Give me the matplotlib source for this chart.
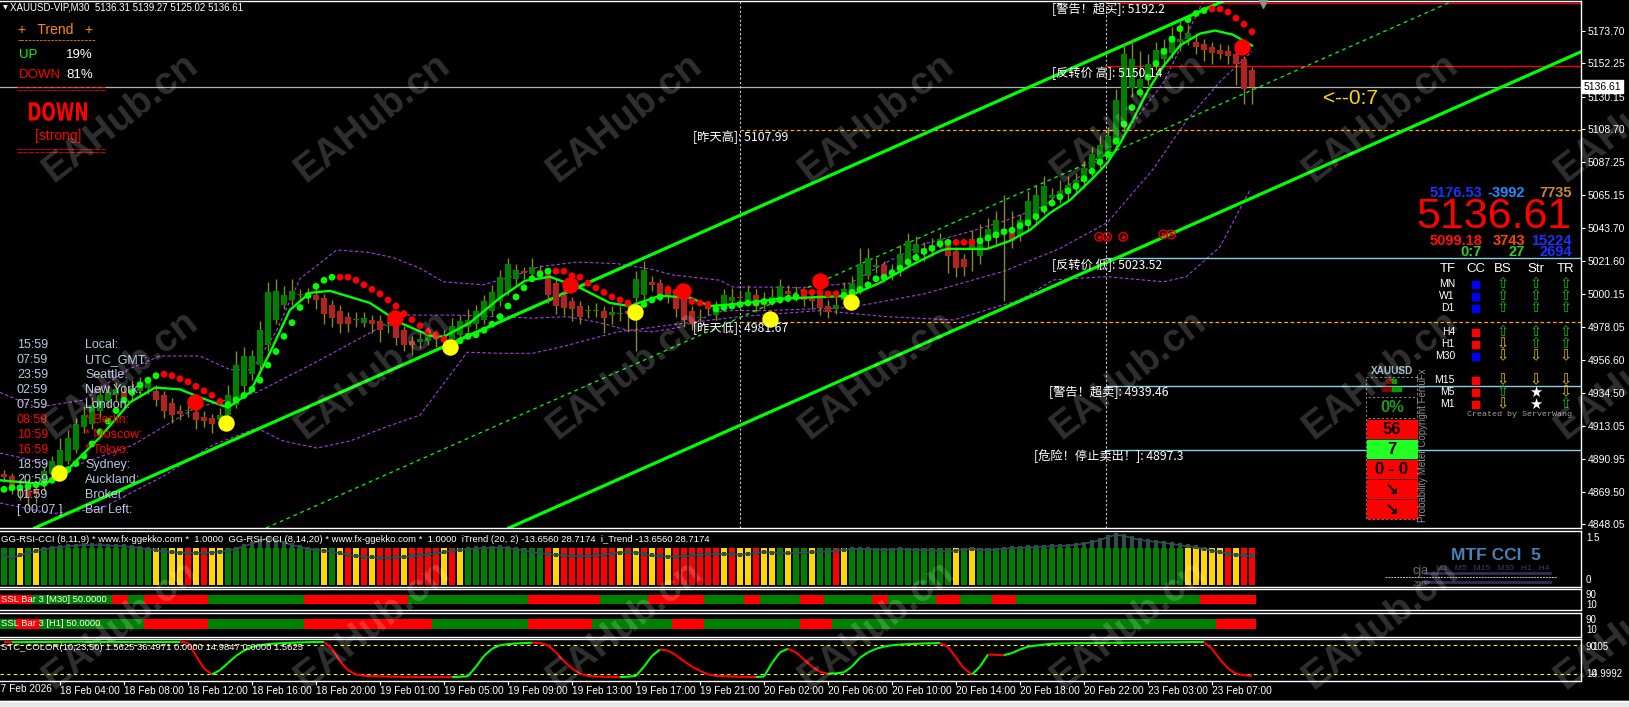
import numpy as np
import matplotlib
matplotlib.use("Agg")
import matplotlib.pyplot as plt
import matplotlib.transforms as mtransforms
from matplotlib.patches import Rectangle, PathPatch
from matplotlib.collections import LineCollection
from matplotlib.textpath import TextPath
from matplotlib.font_manager import FontProperties

plt.rcParams["font.family"] = ["Liberation Sans", "DejaVu Sans"]
CJK = ["Noto Sans CJK SC", "DejaVu Sans"]

W, H = 1629, 707
N_BARS = 157

# ---------------- price data (XAUUSD M30) ----------------
opens = [4881, 4880, 4874, 4874, 4871, 4874, 4881, 4886, 4890, 4897,
         4912, 4914, 4923, 4929, 4933, 4935, 4935, 4936, 4938, 4936,
         4933, 4928, 4923, 4923, 4922, 4919, 4918, 4917, 4920, 4927,
         4939, 4947, 4953, 4966, 4983, 4993, 4996, 4999, 4997, 4999,
         4997, 4993, 4989, 4985, 4983, 4981, 4983, 4982, 4979, 4982,
         4976, 4969, 4968, 4969, 4974, 4970, 4970, 4973, 4978, 4980,
         4983, 4989, 4995, 5002, 5010, 5015, 5013, 5016, 5014, 5007,
         4999, 4995, 4992, 4989, 4989, 4989, 4986, 4987, 4989, 4997,
         4999, 5008, 5007, 5003, 4999, 4997, 4989, 4984, 4992, 4986,
         4992, 4995, 4998, 4996, 4999, 4995, 4996, 4997, 5002, 4998,
         5000, 4998, 4999, 4992, 4990, 4996, 4999, 5003, 5012, 5018,
         5019, 5013, 5015, 5022, 5027, 5030, 5029, 5033, 5032, 5028,
         5023, 5030, 5025, 5035, 5037, 5043, 5040, 5039, 5045, 5050,
         5057, 5063, 5066, 5066, 5070, 5074, 5083, 5087, 5093, 5098,
         5111, 5136, 5136, 5142, 5152, 5155, 5159, 5166, 5168, 5166,
         5165, 5163, 5161, 5160, 5158, 5155, 5148]
closes = [4879, 4872, 4870, 4866, 4868, 4883, 4890, 4897, 4905, 4914,
          4920, 4927, 4933, 4935, 4937, 4932, 4938, 4940, 4941, 4930,
          4923, 4920, 4921, 4923, 4917, 4916, 4914, 4920, 4933, 4953,
          4959, 4959, 4976, 5001, 5002, 4999, 5002, 4999, 5000, 4996,
          4987, 4984, 4980, 4980, 4983, 4984, 4980, 4976, 4979, 4971,
          4966, 4966, 4970, 4974, 4970, 4972, 4979, 4982, 4983, 4989,
          4995, 5001, 5011, 5020, 5016, 5014, 5018, 5014, 4999, 4992,
          4991, 4990, 4985, 4989, 4989, 4984, 4988, 4987, 4987, 5010,
          5016, 5006, 4999, 4999, 4990, 4983, 4980, 4985, 4990, 4991,
          4999, 4998, 4997, 5001, 4992, 4993, 4998, 5005, 5000, 5000,
          4996, 4995, 4991, 4988, 4993, 5003, 5007, 5020, 5024, 5019,
          5012, 5015, 5026, 5035, 5033, 5026, 5032, 5036, 5025, 5017,
          5018, 5036, 5037, 5043, 5049, 5040, 5035, 5049, 5061, 5065,
          5071, 5065, 5068, 5072, 5075, 5083, 5092, 5098, 5104, 5128,
          5158, 5155, 5142, 5152, 5161, 5162, 5170, 5168, 5172, 5163,
          5161, 5159, 5158, 5157, 5152, 5135, 5136.61]
highs = [4884, 4882, 4876, 4878, 4873, 4886, 4893, 4905, 4910, 4918,
         4926, 4932, 4938, 4940, 4942, 4940, 4943, 4945, 4946, 4940,
         4936, 4931, 4927, 4927, 4925, 4923, 4921, 4925, 4940, 4962,
         4965, 4963, 4982, 5008, 5010, 5005, 5010, 5003, 5004, 5003,
         5000, 4996, 4993, 4988, 4988, 4988, 4986, 4986, 4983, 4986,
         4979, 4972, 4974, 4978, 4976, 4976, 4984, 4986, 4990, 4993,
         4999, 5006, 5016, 5024, 5020, 5018, 5024, 5019, 5017, 5010,
         5003, 4998, 4995, 4993, 4994, 4992, 4992, 4992, 4994, 5015,
         5022, 5012, 5010, 5006, 5002, 5000, 4992, 4990, 4995, 4995,
         5003, 5004, 5002, 5006, 5003, 5001, 5004, 5010, 5006, 5005,
         5004, 5002, 5003, 4996, 4998, 5008, 5012, 5030, 5030, 5024,
         5022, 5020, 5032, 5040, 5038, 5034, 5037, 5040, 5035, 5031,
         5026, 5042, 5046, 5050, 5055, 5065, 5055, 5053, 5068, 5072,
         5078, 5070, 5075, 5078, 5080, 5088, 5097, 5104, 5110, 5135,
         5165, 5168, 5160, 5158, 5166, 5168, 5176, 5180, 5178, 5172,
         5168, 5166, 5165, 5164, 5162, 5157, 5150]
lows = [4876, 4868, 4864, 4860, 4862, 4870, 4878, 4884, 4888, 4895,
        4908, 4911, 4918, 4925, 4929, 4928, 4930, 4932, 4934, 4926,
        4918, 4915, 4917, 4919, 4911, 4912, 4908, 4914, 4918, 4925,
        4935, 4943, 4950, 4962, 4980, 4990, 4993, 4996, 4994, 4990,
        4980, 4978, 4974, 4975, 4978, 4978, 4974, 4968, 4974, 4966,
        4962, 4960, 4964, 4966, 4965, 4966, 4968, 4970, 4975, 4977,
        4980, 4986, 4992, 4999, 5006, 5010, 5009, 5010, 4994, 4987,
        4986, 4982, 4980, 4984, 4985, 4974, 4980, 4982, 4975, 4962,
        4995, 5002, 4995, 4994, 4985, 4978, 4976, 4980, 4986, 4983,
        4989, 4992, 4993, 4993, 4988, 4990, 4993, 4994, 4997, 4995,
        4992, 4990, 4986, 4984, 4987, 4993, 4996, 5000, 5010, 5014,
        5008, 5009, 5012, 5019, 5024, 5022, 5025, 5030, 5014, 5011,
        5012, 5015, 5020, 5030, 5033, 4995, 5030, 5035, 5042, 5047,
        5053, 5058, 5060, 5062, 5066, 5070, 5078, 5083, 5090, 5095,
        5107, 5130, 5130, 5138, 5148, 5150, 5156, 5160, 5164, 5158,
        5154, 5152, 5155, 5152, 5138, 5125, 5125]

# parabolic dots (one per bar) and their colour runs
sar = [4871, 4872, 4872, 4873, 4874, 4875, 4877, 4881, 4884, 4888,
       4893, 4901, 4909, 4916, 4923, 4930, 4935, 4940, 4943, 4946,
       4947, 4946, 4944, 4942, 4939, 4936, 4933, 4929, 4927, 4930,
       4933, 4937, 4943, 4953, 4962, 4972, 4981, 4991, 4999, 5005,
       5009, 5011, 5011, 5011, 5009, 5006, 5003, 5000, 4996, 4992,
       4987, 4983, 4979, 4975, 4973, 4970, 4967, 4969, 4972, 4973,
       4976, 4980, 4985, 4992, 4998, 5004, 5010, 5013, 5015, 5015,
       5015, 5012, 5011, 5007, 5004, 5001, 4998, 4996, 4994, 4990,
       4993, 4996, 4998, 5003, 5001, 4998, 4995, 4994, 4993, 4990,
       4991, 4992, 4993, 4994, 4994, 4995, 4995, 4996, 4997, 4998,
       5001, 5001, 5001, 5000, 5000, 4999, 5001, 5003, 5006, 5010,
       5011, 5014, 5017, 5021, 5024, 5028, 5030, 5033, 5034, 5034,
       5034, 5034, 5035, 5037, 5039, 5041, 5042, 5045, 5047, 5051,
       5056, 5060, 5064, 5068, 5071, 5076, 5081, 5087, 5092, 5101,
       5112, 5123, 5133, 5143, 5152, 5160, 5168, 5175, 5181, 5185,
       5187, 5188, 5188, 5186, 5182, 5178, 5173]
sar_runs = [("g", 20), ("r", 8), ("g", 14), ("r", 14), ("g", 13), ("r", 10), ("g", 4),
            ("r", 6), ("g", 11), ("r", 5), ("g", 14), ("r", 3), ("g", 29), ("r", 6)]

# smoothed moving average (vertices: bar, price)
ma_bar = [-0.5, 5.1, 8.25, 12, 15.75, 18.9, 22, 24.5, 28, 30.75, 33.25, 35.75, 38.25, 40.75,
          45.75, 49.5, 53.25, 55, 58.25, 62, 65.1, 68.25, 72, 75.75, 78.25, 82, 85.75, 88.25,
          92, 97, 105.75, 109.5, 113.25, 117, 117.9, 122.9, 125.75, 128.25, 130.75, 133.25,
          136.1, 137.9, 139.5, 141.1, 143, 144.9, 147, 149.5, 151.4, 153.6, 156]
ma_val = [4877, 4874.4, 4885.6, 4905.4, 4928.4, 4938.2, 4937, 4931.7, 4925, 4935, 4961.3,
          4989.5, 5000.7, 5002, 4994, 4981, 4972.4, 4971.8, 4981, 4997.4, 5008.6, 5011.3, 5004,
          4994, 4992, 4998.8, 4997.5, 4992, 4993.5, 4996.8, 4998.8, 5007.3, 5018.5, 5028.4,
          5029.7, 5029.7, 5035, 5042.2, 5053.4, 5061.9, 5076.4, 5086.3, 5099.4, 5114.6, 5134.3,
          5150.1, 5163.9, 5171.8, 5173.8, 5171.1, 5163.9]

# purple dashed bands (vertices: bar, price)
band_up_bar = [-0.5, 4, 10, 15.4, 19.5, 24.5, 28.25, 31, 34, 37, 41.6, 45.4, 48.6, 52, 54.9,
               59.9, 63.25, 67, 71.6, 76.6, 81.1, 83.6, 89.5, 91.1, 95.4, 99.5, 105.75, 110,
               115, 120, 125, 130, 135, 140, 145, 149.5, 150.5]
band_up_val = [4935, 4925, 4930, 4950, 4959, 4959, 4950, 4950, 4975, 5010, 5029, 5027.5,
               5024, 5017, 5008, 5006, 5011, 5018, 5021, 5020, 5016, 5012.5, 5009, 5004.5,
               5004.5, 5004, 5007, 5020, 5033, 5040, 5048, 5058, 5080, 5105, 5140, 5189, 5200]
band_mid_bar = [-0.5, 8, 16, 24, 31.6, 39, 46, 49.5, 56.1, 62, 66.1, 70.4, 74.5, 77.9, 81.1,
                84.5, 87, 89.1, 91.1, 95.4, 105.75, 115, 125, 132, 137.9, 143.6, 147.9, 152, 156]
band_mid_val = [4895, 4885, 4900, 4925, 4935, 4955, 4975, 4986, 4986, 4985, 4984, 4985,
                4981, 4976, 4975, 4978, 4983, 4988, 4989, 4989, 4991, 5000, 5015, 5030, 5047,
                5082, 5115, 5140, 5160]
band_lo_bar = [-0.5, 6, 12, 20, 26, 31.6, 34.9, 39.1, 43.25, 47.4, 52, 57.9, 62, 66.1, 70.4,
               76.6, 84, 92, 102, 110.3, 118.7, 122.8, 127, 131.2, 137.8, 144.9, 147.8, 152,
               155.75]
band_lo_val = [4862, 4855, 4858, 4880, 4900, 4911.5, 4902.9, 4898.3, 4902.9, 4911.5, 4920,
               4961.5, 4960.8, 4960.8, 4966, 4974.8, 4980, 4985, 4989, 4985, 4982.8, 4989.4,
               4996, 5009.2, 5011.4, 5008, 5011.4, 5031.1, 5068.6]

# signal markers
yellow_bar = [6.9, 27.75, 55.75, 78.9, 95.75, 105.9]
yellow_val = [4881.6, 4914.6, 4965.2, 4988.2, 4983.6, 4994.8]
bigred_bar = [23.9, 48.9, 70.75, 84.9, 102, 154.8]
bigred_val = [4928.4, 4984.3, 5006, 5002, 5008.6, 5163]
ring_bar = [136.9, 137.9, 139.9, 144.9, 145.9]
ring_val = [5037.7, 5037.7, 5037.7, 5039.3, 5039.3]

# trend channel anchors (bar, price)
channel_solid = [((4.1, 4846.1), (152.75, 5194.0)), ((62.25, 4843.5), (197.1, 5159.7))]
channel_dashed = ((31.9, 4843.5), (181.4, 5194.0))

# horizontal levels
current_price = 5136.61
level_prices = [5192.2, 5150.14, 5023.52, 4939.46, 4897.3]
level_colors = ["#FF0000", "#FF0000", "#87CEEB", "#87CEEB", "#87CEEB"]
level_texts = ["[警告！超买]: 5192.2", "[反转价 高]: 5150.14", "[反转价 低]: 5023.52",
               "[警告！超卖]: 4939.46", "[危险！停止卖出！]: 4897.3"]
level_text_bar = [131.0, 131.0, 131.0, 130.6, 128.75]
yday_prices = [5107.99, 4981.67]
yday_texts = ["[昨天高]: 5107.99", "[昨天低]: 4981.67"]
day_sep_bars = [92.0, 137.8]

price_ticks = [5173.70, 5152.25, 5130.15, 5108.70, 5087.25, 5065.15, 5043.70, 5021.60,
               5000.15, 4978.05, 4956.60, 4934.50, 4913.05, 4890.95, 4869.50, 4848.05]

time_tick_bars = [7, 15, 23, 31, 39, 47, 55, 63, 71, 79, 87, 95, 103, 111, 119, 127, 135, 143, 151]
time_tick_labels = ["18 Feb 04:00", "18 Feb 08:00", "18 Feb 12:00", "18 Feb 16:00",
                    "18 Feb 20:00", "19 Feb 01:00", "19 Feb 05:00", "19 Feb 09:00",
                    "19 Feb 13:00", "19 Feb 17:00", "19 Feb 21:00", "20 Feb 02:00",
                    "20 Feb 06:00", "20 Feb 10:00", "20 Feb 14:00", "20 Feb 18:00",
                    "20 Feb 22:00", "23 Feb 03:00", "23 Feb 07:00"]

# ---------------- sub-window data ----------------
gg_colors = ("ggygyggggg" "gggggggggy" "gyyryryygg" "gggggggggg" "ygyryryrrr"
             "yrrrryrygg" "ggggggggry" "rrrrrrryry" "ryryrrrrrr" "yryyryygyg"
             "gyggrygggg" "gggggggggy" "gygggggggg" "gggggggggg" "ggggggggyy"
             "yyyryrr")
itrend = [0.80, 0.74, 0.80, 0.86, 0.92, 0.97, 1.00, 1.03, 1.05, 1.07,
          1.08, 1.08, 1.08, 1.07, 1.06, 1.05, 1.03, 1.00, 0.97, 0.94,
          0.91, 0.89, 0.88, 0.87, 0.87, 0.87, 0.88, 0.90, 0.93, 0.98,
          1.05, 1.12, 1.20, 1.26, 1.22, 1.15, 1.08, 1.03, 0.98, 0.95,
          0.93, 0.90, 0.86, 0.82, 0.79, 0.77, 0.75, 0.74, 0.74, 0.75,
          0.76, 0.78, 0.80, 0.83, 0.86, 0.89, 0.92, 0.95, 0.97, 0.99,
          1.00, 1.01, 1.02, 1.00, 0.97, 0.93, 0.89, 0.86, 0.84, 0.82,
          0.80, 0.79, 0.78, 0.79, 0.80, 0.82, 0.85, 0.88, 0.90, 0.88,
          0.84, 0.80, 0.78, 0.77, 0.77, 0.78, 0.80, 0.82, 0.83, 0.84,
          0.84, 0.83, 0.82, 0.84, 0.87, 0.90, 0.88, 0.86, 0.86, 0.87,
          0.88, 0.89, 0.90, 0.91, 0.93, 0.95, 0.97, 0.98, 0.97, 0.96,
          0.95, 0.96, 0.97, 0.96, 0.95, 0.94, 0.94, 0.92, 0.91, 0.93,
          0.96, 0.97, 0.95, 0.94, 0.96, 0.98, 1.00, 1.01, 1.02, 1.03,
          1.04, 1.05, 1.06, 1.07, 1.09, 1.12, 1.16, 1.22, 1.30, 1.36,
          1.33, 1.27, 1.22, 1.19, 1.17, 1.14, 1.11, 1.08, 1.05, 1.02,
          0.98, 0.93, 0.89, 0.85, 0.82, 0.80, 0.78]
ssl_m30_runs = [("r", 4), ("g", 10), ("r", 2), ("g", 2), ("r", 8), ("g", 12), ("r", 13),
                ("g", 15), ("r", 9), ("g", 6), ("r", 7), ("g", 5), ("r", 2), ("g", 5),
                ("r", 3), ("g", 6), ("r", 2), ("g", 6), ("r", 3), ("g", 4), ("r", 3),
                ("g", 23), ("r", 7)]
ssl_h1_runs = [("g", 2), ("r", 3), ("g", 13), ("r", 8), ("g", 12), ("r", 16), ("g", 12),
               ("r", 8), ("g", 10), ("r", 4), ("g", 12), ("r", 4), ("g", 48), ("r", 5)]
stc = [99, 98.5, 98.6, 98.8, 99, 99.2, 99.4, 99.5, 99.6, 99.7,
       99.8, 99.8, 99.9, 99.9, 100, 100, 100, 100, 100, 100,
       100, 100, 100, 97, 60, 25, 8, 20, 40, 60,
       75, 85, 90, 93, 95, 96, 97, 98, 98.5, 99,
       99, 80, 45, 20, 8, 4, 3, 2.5, 2, 1.5,
       1.2, 1, 0.8, 0.6, 0.5, 0.4, 0.3, 1.5, 3, 30,
       60, 80, 90, 93, 95, 96, 97, 96.5, 90, 70,
       45, 25, 10, 4, 2, 1.5, 1, 0.5, 1.5, 4,
       30, 60, 78, 75, 62, 45, 30, 18, 8, 4,
       3, 2, 1.5, 1, 0.5, 2, 40, 70, 80, 70,
       50, 30, 15, 10, 11, 14, 30, 55, 70, 80,
       86, 90, 92, 93, 94, 95, 95.5, 96, 85, 55,
       25, 8, 30, 64, 63, 62, 68, 78, 86, 89,
       92, 94, 95, 95.5, 96, 96.2, 96.4, 96.6, 96.8, 97,
       97.2, 97.4, 97.6, 97.8, 98, 98.2, 98.4, 98.6, 98.8, 99,
       99, 80, 50, 25, 10, 6, 4]

# ---------------- text panels ----------------
clock_times = ["15:59", "07:59", "23:59", "02:59", "07:59", "08:59", "10:59", "16:59",
               "18:59", "20:59", "01:59", "[ 00:07 ]"]
clock_names = ["Local:", "UTC_GMT:", "Seattle:", "New York:", "London:", "* Berlin:",
               "* Moscow:", "* Tokyo:", "Sydney:", "Auckland:", "Broker:", "Bar Left:"]
clock_red = [5, 6, 7]

tf_names = ["MN", "W1", "D1", "H4", "H1", "M30", "M15", "M5", "M1"]
tf_cc = ["b", "b", "b", "r", "r", "b", "r", "r", "r"]
tf_bs = ["u", "u", "u", "u", "d", "d", "d", "u", "d"]
tf_str = ["u", "u", "u", "u", "u", "d", "d", "s", "s"]
tf_tr = ["u", "u", "u", "u", "u", "d", "d", "d", "u"]

BULL, BEAR, WICK = "#008000", "#B22222", "#8A8A1A"
LIME, RED = "#00FF00", "#FF0000"
PURPLE = "#A040E0"


def expand(runs):
    out = []
    for col, n in runs:
        out += [col] * n
    return out


fig = plt.figure(figsize=(W / 100, H / 100), dpi=100, facecolor="black")


def px_axes(left, top, right, bottom):
    a = fig.add_axes([left / W, 1 - bottom / H, (right - left) / W, (bottom - top) / H])
    a.set_facecolor("black")
    for side, sp in a.spines.items():
        sp.set_color("white")
        sp.set_linewidth(1)
    a.spines["left"].set_visible(False)
    a.set_xlim(-0.5, 197.125)
    a.tick_params(left=False, labelleft=False, bottom=False, labelbottom=False,
                  right=False, labelright=False)
    return a


x = np.arange(N_BARS)
o, c = np.array(opens, float), np.array(closes, float)
hi, lo = np.array(highs, float), np.array(lows, float)

# ---------------- main chart ----------------
ax = px_axes(0, 1, 1581, 528)
ax.set_ylim(4845.5, 5193.3)

ax.plot(band_up_bar, band_up_val, color=PURPLE, lw=0.8, ls=(0, (3, 2)), zorder=1)
ax.plot(band_mid_bar, band_mid_val, color=PURPLE, lw=0.8, ls=(0, (3, 2)), zorder=1)
ax.plot(band_lo_bar, band_lo_val, color=PURPLE, lw=0.8, ls=(0, (3, 2)), zorder=1)

ax.axhline(current_price, color="#B0B0B0", lw=0.9, zorder=1)
for b in day_sep_bars:
    ax.axvline(b, color="#C8C8C8", lw=0.8, ls=(0, (2, 2)), zorder=1)
for p in yday_prices:
    ax.plot([day_sep_bars[0], 197.125], [p, p], color="#FFA500", lw=0.9, ls=(0, (3, 2)), zorder=1)
for p, col in zip(level_prices, level_colors):
    ax.plot([day_sep_bars[1], 197.125], [p, p], color=col, lw=1.0, zorder=1)

for a_pt, b_pt in channel_solid:
    ax.axline(a_pt, b_pt, color=LIME, lw=2.3, zorder=2)
ax.axline(channel_dashed[0], channel_dashed[1], color=LIME, lw=0.9, ls=(0, (3, 3)), zorder=2)

ax.vlines(x, lo, hi, color=WICK, lw=1, zorder=3)
body_h = np.maximum(np.abs(c - o), 0.7)
ax.bar(x, body_h, bottom=np.minimum(o, c), width=0.64, linewidth=0,
       color=[BULL if cc >= oo else BEAR for oo, cc in zip(o, c)], zorder=4)

ax.plot(ma_bar, ma_val, color=LIME, lw=1.7, zorder=5)

sar_cols = expand(sar_runs)
ax.scatter(x, sar, s=24, c=[LIME if k == "g" else RED for k in sar_cols], zorder=6, linewidths=0)
ax.scatter(yellow_bar, yellow_val, s=140, c="#FFFF00", zorder=7, linewidths=0)
ax.scatter(bigred_bar, bigred_val, s=140, c=RED, zorder=7, linewidths=0)
ax.scatter(ring_bar, ring_val, s=38, facecolors="none", edgecolors="#E00000", linewidths=1.0, zorder=6)
ax.scatter(ring_bar, ring_val, s=4, c="#E00000", zorder=6)

ax.yaxis.tick_right()
ax.set_yticks(price_ticks)
ax.set_yticklabels([f"{v:.2f}" for v in price_ticks])
ax.tick_params(axis="y", right=True, labelright=True, colors="white", labelsize=7.5,
               length=3, width=0.8, pad=2)

dn = mtransforms.offset_copy(ax.transData, fig=fig, y=-7, units="dots")
for p, t_, b in zip(level_prices, level_texts, level_text_bar):
    ax.text(b, p, t_, transform=dn, color="white", fontsize=8.8, family=CJK,
            va="center", ha="left", zorder=9)
for p, t_ in zip(yday_prices, yday_texts):
    ax.text(86.1, p, t_, transform=dn, color="white", fontsize=8.8, family=CJK,
            va="center", ha="left", zorder=9)

cur_tr = mtransforms.blended_transform_factory(ax.transAxes, ax.transData)
ax.text(1.0015, current_price, "5136.61", transform=cur_tr, color="black", fontsize=7.5,
        va="center", ha="left", zorder=10,
        bbox=dict(boxstyle="square,pad=0.15", fc="white", ec="white"))

# ---------------- GG-RSI-CCI window ----------------
gg = px_axes(0, 531, 1581, 587)
gg.set_ylim(-0.054, 1.463)
cmap = {"g": "#008000", "y": "#FFD700", "r": "#FF0000"}
gg.bar(x, 1.0, width=0.8, color=[cmap[k] for k in gg_colors], linewidth=0, zorder=1)
it = np.array(itrend)
above = it > 1.0
gg.bar(x[above], it[above] - 1.0, bottom=1.0, width=0.45, color="#2F4F4F", linewidth=0, zorder=2)
gg.plot(x, it, color="#2F4F4F", lw=1.2, zorder=3)
gg.scatter(x, it, marker="s", s=7, c="#2F4F4F", zorder=3, linewidths=0)

# ---------------- SSL windows ----------------
sslc = {"g": "#008000", "r": "#FF0000"}
m30 = px_axes(0, 589, 1581, 610)
m30.set_ylim(0, 1)
m30.bar(x, 0.46, bottom=0.27, width=0.9, color=[sslc[k] for k in expand(ssl_m30_runs)], linewidth=0)
h1 = px_axes(0, 613, 1581, 637)
h1.set_ylim(0, 1)
h1.bar(x, 0.42, bottom=0.33, width=0.9, color=[sslc[k] for k in expand(ssl_h1_runs)], linewidth=0)

# ---------------- STC window ----------------
st = px_axes(0, 639, 1581, 681)
st.set_ylim(-10.5, 107.5)
st.axhline(90, color="#FFFF00", lw=0.8, ls=(0, (3, 3)))
st.axhline(10, color="#FFFF00", lw=0.8, ls=(0, (3, 3)))
sv = np.array(stc)
segs, scols, last = [], [], RED
for i in range(1, N_BARS):
    if sv[i] > sv[i - 1]:
        last = LIME
    elif sv[i] < sv[i - 1]:
        last = RED
    segs.append([(x[i - 1], sv[i - 1]), (x[i], sv[i])])
    scols.append(last)
st.add_collection(LineCollection(segs, colors=scols, linewidths=1.5))
st.set_xticks(time_tick_bars)
st.set_xticklabels(time_tick_labels)
st.tick_params(axis="x", bottom=True, labelbottom=True, colors="white", labelsize=7.3,
               length=3, width=0.8, pad=0.5)
for lab in st.get_xticklabels():
    lab.set_horizontalalignment("left")

# ---------------- overlay in pixel space ----------------
ov = fig.add_axes([0, 0, 1, 1], zorder=20)
ov.set_xlim(0, W)
ov.set_ylim(H, 0)
ov.axis("off")
ov.patch.set_alpha(0)


def t(xp, yp, s, **kw):
    kw.setdefault("va", "center")
    kw.setdefault("ha", "left")
    kw.setdefault("color", "white")
    ov.text(xp, yp, s, **kw)


t(-5, 689, "17 Feb 2026", fontsize=7.3)
ov.plot([-4, -4], [681, 684], color="white", lw=0.8)
ov.add_patch(Rectangle((0, 701), W, 6, color="#E8E8E8", zorder=1))
ov.plot([0, W], [700.5, 700.5], color="white", lw=1)

# title and left trend box
t(3, 8, "▼", fontsize=4.5, family="DejaVu Sans")
t(10, 8, "XAUUSD-VIP,M30  5136.31 5139.27 5125.02 5136.61", fontsize=7)
t(18, 30, "+   Trend   +", fontsize=10, color="#FF8C00")
t(18, 40.5, "-" * 21, fontsize=8, color="#FF8C00")
t(19, 55, "UP", fontsize=9.5, color=LIME)
t(93, 55, "19%", fontsize=9.5, ha="right")
t(19, 75, "DOWN", fontsize=9.5, color=RED)
t(93, 75, "81%", fontsize=9.5, ha="right")
t(17, 90, "=" * 15, fontsize=7.5, color=RED)
tp = TextPath((0, 0), "DOWN", size=10, prop=FontProperties(family="DejaVu Sans", weight="bold"))
bb = tp.get_extents()
fit = (mtransforms.Affine2D().translate(-bb.x0, -bb.y0)
       .scale(58 / bb.width, -19 / bb.height).translate(29, 121))
ov.add_patch(PathPatch(fit.transform_path(tp), color=RED, lw=0))
t(58, 136, "[strong]", fontsize=10, color=RED, ha="center")
t(17, 152, "=" * 15, fontsize=7.5, color=RED)

for k, (tm, nm) in enumerate(zip(clock_times, clock_names)):
    col = "#FF0000" if k in clock_red else "#B8C8E0"
    yy = 345 + 15 * k
    t(17, yy, tm, fontsize=9, color=col)
    t(85, yy, nm, fontsize=9, color=col)

t(1351, 98, "<--0:7", fontsize=15, color="#FFD700", ha="center")

# right info block
t(1482, 193, "5176.53", fontsize=10.5, weight="bold", color="#2030FF", ha="right")
t(1525, 193, "-3992", fontsize=10.5, weight="bold", color="#1E90FF", ha="right")
t(1572, 193, "7735", fontsize=10.5, weight="bold", color="#CD853F", ha="right")
t(1571, 217, "5136.61", fontsize=31, color="#FF0000", ha="right")
t(1482, 241, "5099.18", fontsize=10.5, weight="bold", color="#FF1010", ha="right")
t(1525, 241, "3743", fontsize=10.5, weight="bold", color="#FF4500", ha="right")
t(1572, 241, "15224", fontsize=10.5, weight="bold", color="#2030FF", ha="right")
t(1482, 252, "0:7", fontsize=10.5, weight="bold", color="#32CD32", ha="right")
t(1525, 252, "27", fontsize=10.5, weight="bold", color="#32CD32", ha="right")
t(1572, 252, "2694", fontsize=10.5, weight="bold", color="#2030FF", ha="right")

hdr_x = [1448, 1476, 1503, 1536, 1566]
for hx, hs in zip(hdr_x, ["TF", "CC", "BS", "Str", "TR"]):
    t(hx, 269, hs, fontsize=9.5, ha="center")
row_y = [284, 296, 308, 332, 344, 356, 380, 392, 404]
sym = {"u": ("⇧", "#10C010"), "d": ("⇩", "#E8C000"), "s": ("★", "white")}
for yy, nm, cc, bs, sr, tr in zip(row_y, tf_names, tf_cc, tf_bs, tf_str, tf_tr):
    t(1455, yy, nm, fontsize=7.5, ha="right")
    ov.add_patch(Rectangle((1472.5, yy - 3.5), 7, 7, color="#0000FF" if cc == "b" else "#FF0000"))
    for xx, k in zip(hdr_x[2:], (bs, sr, tr)):
        s, col = sym[k]
        t(xx, yy, s, fontsize=10.5, color=col, ha="center", family="DejaVu Sans")
t(1467, 414, "Created by ServerWang", fontsize=6, color="#A0A0A0", family="Liberation Mono")

# probability meter
t(1392, 371, "XAUUSD", fontsize=7.2, weight="bold", color="#A0C0D0", ha="center")
for sx, col in [(1387, "#8B0000"), (1392, "#00A000")]:
    ov.add_patch(Rectangle((sx, 379), 4, 4, color=col))
for sx, col in [(1382, "#8B0000"), (1387, "#8B0000"), (1392, "#00A000"), (1397, "#00A000")]:
    ov.add_patch(Rectangle((sx, 387), 4, 4, color=col))
ov.add_patch(Rectangle((1366, 377), 51, 142, fill=False, ec="#808080", lw=0.8, ls=(0, (2, 2))))
ov.plot([1368, 1416], [397, 397], color="#808080", lw=0.8, ls=(0, (2, 2)))
ov.plot([1368, 1416], [418, 418], color="#808080", lw=0.8, ls=(0, (2, 2)))
t(1392, 408, "0%", fontsize=12, weight="bold", color="#1E9A1E", ha="center")
boxes = [("56", "#FF0000"), ("7", "#22FF22"), ("0 - 0", "#FF0000"), ("↘", "#FF0000"), ("↘", "#FF0000")]
for k, (s, col) in enumerate(boxes):
    y0 = 420 + 20 * k
    ov.add_patch(Rectangle((1367, y0), 50, 18, color=col))
    t(1392, y0 + 9.5, s, fontsize=12, weight="bold", color="black", ha="center",
      family="DejaVu Sans" if s == "↘" else "Liberation Sans")
t(1423, 445, "Probability Meter Copyright FerruFx", fontsize=7, color="#909090",
  rotation=90, ha="center")

# sub-window captions
t(1, 540, "GG-RSI-CCI (8,11,9) * www.fx-ggekko.com *  1.0000  GG-RSI-CCI (8,14,20) * "
  "www.fx-ggekko.com *  1.0000  iTrend (20, 2) -13.6560 28.7174  i_Trend -13.6560 28.7174",
  fontsize=6.8)
t(1, 599, "SSL Bar 3 [M30] 50.0000", fontsize=6.8)
t(1, 624, "SSL Bar 3 [H1] 50.0000", fontsize=6.8)
t(1, 648, "STC_COLOR(10,23,50) 1.5625 36.4971 0.0000 14.9847 0.0000 1.5625", fontsize=6.8)
for yy, s in [(538, "1.5"), (580, "0"), (595, "90"), (605, "10"), (620, "90"), (630, "10"),
              (647, "90"), (674, "10")]:
    t(1586, yy, s, fontsize=7)
t(1592, 647, "105", fontsize=7)
t(1590, 674, "-4.9992", fontsize=7)

# MTF CCI legend
t(1496, 555, "MTF CCI  5", fontsize=12.5, weight="bold", color="#4682B4", ha="center")
t(1413, 571, "cja", fontsize=9, color="#707070")
t(1436, 569, "M1   M5   M15   M30   H1   H4", fontsize=6, color="#3C3C6C")
ov.plot([1425, 1550], [573, 573], color="#2E2E5A", lw=2)
ov.plot([1385, 1557], [577, 577], color="#C0C0C0", lw=0.7, ls=(0, (2, 1)))
ov.plot([1425, 1550], [582, 582], color="#2E2E5A", lw=2)
t(1413, 584, "250", fontsize=6, color="#606060")

ov.scatter([1263], [4], marker="v", s=30, c="#909090", zorder=5)

# watermark
for wy in (118, 375, 625):
    for wx in (120, 372, 624, 876, 1128, 1380, 1632):
        t(wx, wy, "EAHub.cn", fontsize=28, weight="bold", color="white", alpha=0.19,
          rotation=38, ha="center", rotation_mode="anchor")

fig.savefig("out.png", dpi=100, facecolor="black")
